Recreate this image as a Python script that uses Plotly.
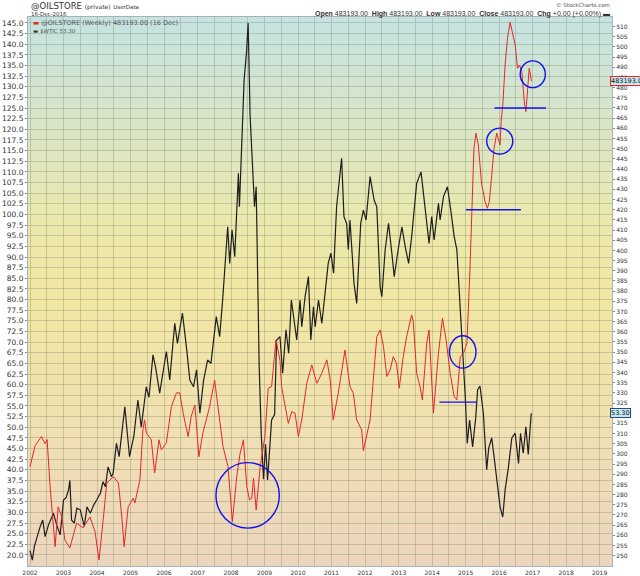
import plotly.graph_objects as go

# $WTIC weekly close (left axis)
wtic_t = [
    2002.00, 2002.07, 2002.13, 2002.22, 2002.30, 2002.38, 2002.45, 2002.55, 2002.70, 2002.80,
    2002.90, 2003.00, 2003.08, 2003.15, 2003.19, 2003.24, 2003.32, 2003.40, 2003.50, 2003.62,
    2003.70, 2003.80, 2003.90, 2003.99, 2004.10, 2004.18, 2004.25, 2004.33, 2004.43, 2004.48,
    2004.58, 2004.66, 2004.83, 2004.97, 2005.10, 2005.22, 2005.32, 2005.47, 2005.55, 2005.67,
    2005.75, 2005.87, 2006.07, 2006.17, 2006.32, 2006.40, 2006.55, 2006.68, 2006.77, 2006.88,
    2006.97, 2007.07, 2007.18, 2007.30, 2007.40, 2007.56, 2007.66, 2007.75, 2007.90, 2007.96,
    2008.03, 2008.11, 2008.18, 2008.22, 2008.25, 2008.33, 2008.39, 2008.46, 2008.51, 2008.57,
    2008.63, 2008.70, 2008.75, 2008.80, 2008.84, 2008.90, 2008.97, 2009.03, 2009.09, 2009.15,
    2009.21, 2009.30, 2009.36, 2009.46, 2009.54, 2009.64, 2009.72, 2009.80, 2009.85, 2009.96,
    2010.06, 2010.11, 2010.21, 2010.31, 2010.38, 2010.46, 2010.51, 2010.61, 2010.71, 2010.81,
    2010.90, 2010.98, 2011.06, 2011.15, 2011.30, 2011.37, 2011.45, 2011.50, 2011.55, 2011.67,
    2011.75, 2011.87, 2011.95, 2012.03, 2012.15, 2012.27, 2012.35, 2012.45, 2012.50, 2012.60,
    2012.70, 2012.80, 2012.87, 2013.00, 2013.10, 2013.20, 2013.30, 2013.40, 2013.54, 2013.67,
    2013.79, 2013.91, 2013.99, 2014.06, 2014.19, 2014.24, 2014.34, 2014.46, 2014.57, 2014.66,
    2014.74, 2014.84, 2014.90, 2014.95, 2014.99, 2015.05, 2015.12, 2015.21, 2015.30, 2015.36,
    2015.43, 2015.53, 2015.63, 2015.69, 2015.78, 2015.85, 2015.93, 2016.03, 2016.11, 2016.18,
    2016.28, 2016.38, 2016.48, 2016.58, 2016.64, 2016.72, 2016.80, 2016.87, 2016.96,
]
wtic_v = [
    21.0, 18.8, 22.0, 24.5, 26.6, 28.2, 24.3, 27.0, 29.8, 27.0,
    24.7, 32.9, 33.5, 35.3, 37.5, 28.2, 27.5, 31.0, 30.6, 26.7,
    31.3, 29.8, 31.7, 32.9, 34.5, 37.2, 36.0, 40.7, 38.4, 39.2,
    46.2, 43.1, 54.8, 43.1, 48.0, 56.4, 50.0, 59.5, 57.0, 67.0,
    64.0, 58.0, 67.8, 61.1, 74.4, 69.7, 76.8, 68.0, 61.1, 59.5,
    63.5, 53.3, 61.0, 65.8, 65.0, 76.0, 71.3, 80.0, 97.1, 88.5,
    96.4, 90.1, 103.4, 109.7, 101.8, 117.9, 131.6, 137.9, 145.0, 123.0,
    114.4, 101.8, 106.5, 75.2, 64.2, 48.6, 37.8, 46.0, 37.6, 44.5,
    51.7, 53.0, 70.5, 71.3, 62.7, 72.9, 67.4, 79.9, 76.8, 70.5,
    79.9, 73.6, 80.7, 85.4, 70.5, 78.3, 73.6, 79.9, 74.4, 81.5,
    88.5, 90.9, 86.2, 101.8, 113.2, 99.5, 97.9, 91.7, 98.7, 83.8,
    79.1, 97.9, 101.0, 98.7, 108.9, 103.4, 101.8, 83.0, 80.7, 91.7,
    97.9, 90.9, 85.4, 92.4, 97.1, 92.4, 88.5, 95.5, 107.3, 110.0,
    101.8, 93.2, 99.5, 94.0, 102.6, 98.7, 104.2, 106.5, 100.3, 94.8,
    91.7, 78.0, 70.0, 62.0, 57.2, 46.2, 51.7, 45.4, 52.0, 58.8,
    59.7, 53.3, 40.0, 45.1, 47.5, 43.1, 37.6, 31.3, 28.9, 35.3,
    40.7, 47.5, 48.6, 41.5, 48.6, 43.9, 50.1, 43.6, 53.3,
]

# @OILSTORE weekly (right axis, thousands)
oil_t = [
    2002.00, 2002.10, 2002.15, 2002.34, 2002.45, 2002.51, 2002.60, 2002.75, 2002.78, 2002.84,
    2002.95, 2003.04, 2003.19, 2003.39, 2003.58, 2003.79, 2003.94, 2004.06, 2004.19, 2004.29,
    2004.49, 2004.64, 2004.74, 2004.81, 2004.93, 2005.08, 2005.13, 2005.28, 2005.37, 2005.42,
    2005.47, 2005.62, 2005.72, 2005.85, 2005.92, 2006.07, 2006.22, 2006.37, 2006.47, 2006.57,
    2006.72, 2006.81, 2006.92, 2007.04, 2007.16, 2007.36, 2007.51, 2007.66, 2007.76, 2007.91,
    2008.04, 2008.17, 2008.27, 2008.37, 2008.47, 2008.55, 2008.62, 2008.67, 2008.75, 2008.87,
    2008.96, 2009.01, 2009.11, 2009.21, 2009.34, 2009.46, 2009.51, 2009.61, 2009.71, 2009.81,
    2009.91, 2010.01, 2010.11, 2010.26, 2010.41, 2010.56, 2010.71, 2010.86, 2010.96, 2011.05,
    2011.20, 2011.40, 2011.55, 2011.65, 2011.75, 2011.90, 2011.95, 2012.15, 2012.25, 2012.35,
    2012.45, 2012.55, 2012.65, 2012.75, 2012.84, 2012.94, 2013.02, 2013.14, 2013.24, 2013.39,
    2013.44, 2013.54, 2013.64, 2013.71, 2013.84, 2013.91, 2014.04, 2014.19, 2014.31, 2014.42,
    2014.54, 2014.66, 2014.74, 2014.84, 2014.94, 2015.04, 2015.13, 2015.18, 2015.25, 2015.31,
    2015.38, 2015.43, 2015.48, 2015.53, 2015.58, 2015.65, 2015.71, 2015.78, 2015.85, 2015.93,
    2015.98, 2016.03, 2016.06, 2016.11, 2016.18, 2016.25, 2016.33, 2016.40, 2016.48, 2016.55,
    2016.61, 2016.68, 2016.75, 2016.80, 2016.85, 2016.90, 2016.94, 2016.96,
]
oil_v = [
    293.7, 300.5, 304.0, 308.5, 305.0, 307.0, 283.9, 254.4, 261.0, 274.0,
    269.0, 257.7, 253.8, 266.0, 263.6, 269.0, 261.8, 247.9, 268.5, 285.7,
    288.8, 285.7, 269.0, 254.4, 274.0, 278.2, 275.9, 287.2, 312.0, 316.7,
    310.3, 306.9, 290.6, 306.9, 302.0, 305.4, 323.2, 330.0, 330.0, 320.0,
    308.5, 318.3, 324.0, 298.6, 310.3, 323.2, 336.3, 316.7, 303.6, 293.7,
    266.7, 288.8, 300.3, 306.9, 283.9, 277.4, 278.2, 288.0, 272.5, 293.7,
    301.9, 308.5, 332.3, 333.0, 356.0, 346.0, 333.0, 324.9, 315.0, 320.8,
    320.0, 308.5, 316.7, 334.7, 343.7, 334.7, 339.6, 346.2, 336.3, 316.7,
    329.8, 351.0, 333.0, 329.8, 316.7, 311.8, 301.5, 316.7, 339.6, 357.6,
    360.9, 352.7, 338.0, 341.3, 347.8, 344.5, 332.3, 347.8, 357.6, 368.3,
    365.0, 339.6, 333.0, 326.5, 354.4, 360.9, 320.0, 349.5, 366.6, 356.0,
    339.6, 328.1, 326.5, 347.8, 349.5, 354.4, 390.4, 417.3, 450.2, 457.6,
    451.8, 442.0, 432.2, 428.9, 424.0, 420.7, 424.0, 437.0, 450.2, 457.6,
    455.1, 451.8, 463.3, 471.5, 491.1, 504.2, 512.1, 507.5, 501.0, 489.5,
    491.1, 487.8, 473.1, 468.2, 479.7, 489.5, 486.2, 483.193,
]

left_ticks = [20 + 2.5 * i for i in range(51)]      # 20.0 ... 145.0
right_ticks = list(range(250, 511, 5))              # 250K ... 510K

# hand-drawn annotations: circles (x0, x1, y0, y1 on left axis) and support lines
circles = [
    (2007.55, 2009.44, 26.3, 41.7),
    (2014.52, 2015.31, 63.9, 71.5),
    (2015.63, 2016.41, 114.2, 120.3),
    (2016.63, 2017.38, 129.8, 136.1),
]
hlines = [
    (2014.22, 2015.33, 55.9),
    (2015.01, 2016.65, 101.1),
    (2015.86, 2017.40, 125.0),
]

bg_stops = [
    (0.00, (236, 213, 189)),
    (0.22, (240, 223, 180)),
    (0.48, (241, 231, 163)),
    (0.62, (236, 232, 172)),
    (0.78, (219, 230, 196)),
    (1.00, (197, 227, 226)),
]


def bg_color(f):
    for (f0, c0), (f1, c1) in zip(bg_stops[:-1], bg_stops[1:]):
        if f0 <= f <= f1:
            k = (f - f0) / (f1 - f0)
            return "rgb(%d,%d,%d)" % tuple(round(a + (b - a) * k) for a, b in zip(c0, c1))
    return "rgb(%d,%d,%d)" % bg_stops[-1][1]


fig = go.Figure()
fig.add_trace(go.Scatter(x=wtic_t, y=wtic_v, mode="lines", yaxis="y",
                         line=dict(color="#1e1e1e", width=1.2), name="$WTIC"))
fig.add_trace(go.Scatter(x=oil_t, y=oil_v, mode="lines", yaxis="y2",
                         line=dict(color="#e5262a", width=1), name="@OILSTORE"))

shapes = []
n = 80
for i in range(n):
    shapes.append(dict(type="rect", xref="paper", yref="paper", x0=0, x1=1,
                       y0=i / n, y1=(i + 1) / n + 0.002, line=dict(width=0),
                       fillcolor=bg_color((i + 0.5) / n), layer="below"))
for x0, x1, y0, y1 in circles:
    shapes.append(dict(type="circle", xref="x", yref="y", x0=x0, x1=x1, y0=y0, y1=y1,
                       line=dict(color="#1010f0", width=1.4)))
for x0, x1, y in hlines:
    shapes.append(dict(type="line", xref="x", yref="y", x0=x0, x1=x1, y0=y, y1=y,
                       line=dict(color="#1010f0", width=1.4)))

font = "DejaVu Sans"
grid = "rgba(125,135,105,0.35)"


def px_x(p):
    return (p - 28) / 584


def px_y(p):
    return (566 - p) / 549


annotations = [
    dict(x=px_x(29), y=px_y(6), text="@OILSTORE <span style='font-size:6px'>(private)</span> "
         "<span style='font-size:5.5px'>UserData</span>",
         font=dict(family=font, size=8.5, color="#333")),
    dict(x=px_x(29), y=px_y(14.5), text="16-Dec-2016", font=dict(family=font, size=5.5, color="#333")),
    dict(x=px_x(612), y=px_y(4.5), xanchor="right", text="© StockCharts.com",
         font=dict(family=font, size=5.5, color="#555")),
    dict(x=px_x(612), y=px_y(14.5), xanchor="right",
         text="<b>Open</b> 483193.00  <b>High</b> 483193.00  <b>Low</b> 483193.00  "
              "<b>Close</b> 483193.00  <b>Chg</b> +0.00 (+0.00%) ▬",
         font=dict(family="Liberation Sans", size=7, color="#333")),
    dict(x=px_x(31), y=px_y(23.5), text="<span style='color:#e5262a'>▬</span> @OILSTORE (Weekly) 483193.00 (16 Dec)",
         font=dict(family=font, size=6.5, color="#555")),
    dict(x=px_x(31), y=px_y(30.5), text="<span style='color:#333'>▬</span> $WTIC 53.30",
         font=dict(family=font, size=5.5, color="#555")),
]
for a in annotations:
    a.setdefault("xanchor", "left")
    a.update(xref="paper", yref="paper", yanchor="middle", showarrow=False)

annotations += [
    dict(xref="paper", yref="y2", x=px_x(610), y=483.193, xanchor="left", yanchor="middle",
         text="483193.00", showarrow=False, font=dict(family=font, size=6.5, color="#111"),
         bgcolor="#c4e8ef", bordercolor="#e5262a", borderwidth=1, borderpad=0),
    dict(xref="paper", yref="y", x=px_x(610), y=53.3, xanchor="left", yanchor="middle",
         text="53.30", showarrow=False, font=dict(family=font, size=6.5, color="#111"),
         bgcolor="#c4e8ef", bordercolor="#2a4a7a", borderwidth=1, borderpad=0),
]

fig.update_layout(
    width=640, height=576,
    margin=dict(l=28, r=28, t=17, b=10, autoexpand=False),
    paper_bgcolor="white",
    plot_bgcolor="rgba(0,0,0,0)",
    showlegend=False,
    shapes=shapes,
    annotations=annotations,
    xaxis=dict(range=[2001.94, 2019.37], tick0=2002, dtick=1, tickformat="d",
               showgrid=True, gridcolor=grid, gridwidth=1,
               minor=dict(dtick=0.5, tick0=2002, showgrid=True, gridcolor=grid, gridwidth=1),
               ticks="", ticklabelstandoff=1, automargin=False,
               tickfont=dict(family=font, size=6, color="#333"),
               showline=True, linecolor="#a8b0b8", mirror=True, zeroline=False),
    yaxis=dict(range=[17.4, 146.4], tickvals=left_ticks, tickformat=".1f",
               showgrid=True, gridcolor=grid, gridwidth=1, automargin=False,
               ticks="outside", ticklen=2, tickcolor="#888",
               tickfont=dict(family=font, size=7.5, color="#333"),
               showline=True, linecolor="#a8b0b8", mirror=True, zeroline=False),
    yaxis2=dict(range=[244.9, 514.7], tickvals=right_ticks, ticksuffix="K",
                overlaying="y", side="right", showgrid=False, automargin=False,
                ticks="outside", ticklen=2, tickcolor="#888",
                tickfont=dict(family=font, size=6, color="#333"),
                zeroline=False),
)

# drop the browser's default 8px page margin so the figure sits at the window origin,
# and hide the modebar so it doesn't cover the header text
fig.write_html("out.html", config={"displayModeBar": False},
               post_script="document.body.style.margin='0';")
